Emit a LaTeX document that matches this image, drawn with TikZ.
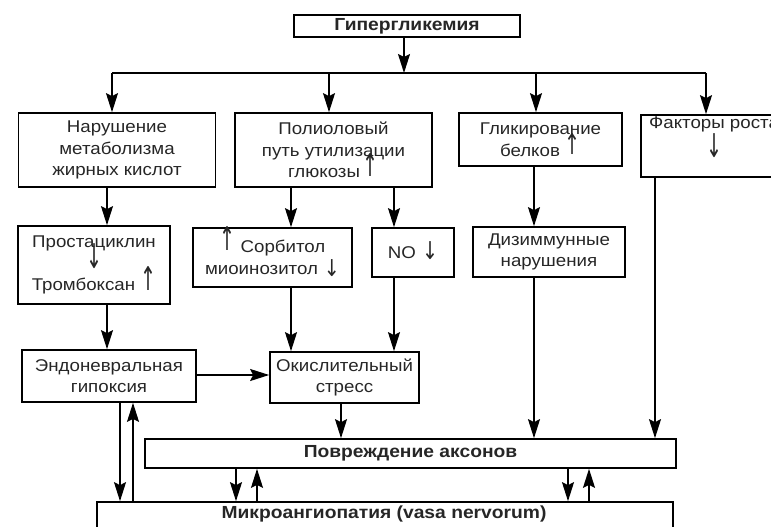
\documentclass[tikz,border=0pt]{standalone}
\usepackage{fontspec}
\usepackage{graphicx}
\setmainfont{Liberation Sans}[FakeStretch=1.1]
\newfontfamily\arrowfont{DejaVu Sans}
\usetikzlibrary{arrows.meta}
% #1 raise, #2 height
\newcommand\upar[2]{\raisebox{#1}[0pt][0pt]{\resizebox*{16pt}{#2}{\arrowfont ↑}}}
\newcommand\dnar[2]{\raisebox{#1}[0pt][0pt]{\resizebox*{16pt}{#2}{\arrowfont ↓}}}
\begin{document}
\begin{tikzpicture}[x=1pt,y=-1pt,
  box/.style={draw, line width=1.7pt, inner sep=0pt, align=center,
    font=\fontsize{17}{21.5}\selectfont, text=black!85},
  plain/.style={inner sep=0pt, align=left,
    font=\fontsize{17}{21.5}\selectfont, text=black!85},
  bold/.style={font=\fontsize{17.5}{21}\selectfont\bfseries, text=black!85},
  arr/.style={-{Stealth[length=19pt,width=12pt,inset=3pt]}, line width=1.5pt},
  ln/.style={line width=1.5pt}]
\useasboundingbox (0,0) rectangle (771,527);
\clip (0,0) rectangle (771,527);
% boxes
\node[box, bold, minimum width=226pt, minimum height=22pt] (top) at (407,26) {Гипергликемия};
\node[box, minimum width=197pt, minimum height=74pt] (b1) at (117,150) {Нарушение\\метаболизма\\жирных кислот};
\node[box, minimum width=197pt, minimum height=74pt] (b2) at (333.5,150) {Полиоловый\\путь утилизации\\глюкозы\hspace{3pt}\upar{1pt}{23pt}};
\node[box, minimum width=163pt, minimum height=53pt] (b3) at (540.5,139.5) {Гликирование\\белков\hspace{5pt}\upar{2pt}{21pt}};
\node[box, minimum width=159pt, minimum height=62pt] (b4) at (720.5,146) {};
\node[plain, anchor=north west] (b4t) at (649,117) {Факторы роста\\\hspace*{57.5pt}\dnar{-7.5pt}{24pt}};
\node[box, minimum width=152pt, minimum height=78pt] (p1) at (94,265) {Простациклин\\\dnar{0.5pt}{25pt}\\Тромбоксан\hspace{5pt}\upar{0pt}{24pt}};
\node[box, minimum width=159pt, minimum height=59pt] (p2) at (272.5,257.5) {\upar{2pt}{24pt}\hspace{5pt}Сорбитол\\миоинозитол\hspace{6pt}\dnar{-2pt}{17pt}};
\node[box, minimum width=82pt, minimum height=49pt] (p3) at (413,252.5) {NO\hspace{6pt}\dnar{-1pt}{18pt}};
\node[box, minimum width=152pt, minimum height=50pt] (p4) at (549,252) {Дизиммунные\\нарушения};
\node[box, minimum width=174pt, minimum height=52pt] (e1) at (109,376) {Эндоневральная\\гипоксия};
\node[box, minimum width=149pt, minimum height=51pt] (e2) at (344.5,377.5) {Окислительный\\стресс};
\node[box, bold, minimum width=531pt, minimum height=29pt] (ax) at (410.5,453.5) {Повреждение аксонов};
\node[box, minimum width=576pt, minimum height=50pt] (mi) at (385,527) {};
\node[bold] (mit) at (384,514) {Микроангиопатия (vasa nervorum)};
% coordinates
\coordinate (hl) at (404,73);
\coordinate (hlL) at (112,73);
\coordinate (hlR) at (706,73);
\coordinate (xa) at (329,0);
\coordinate (xb) at (536,0);
\coordinate (xc) at (107,0);
\coordinate (xd) at (291,0);
\coordinate (xe) at (394,0);
\coordinate (xf) at (534,0);
\coordinate (xg) at (655,0);
\coordinate (xh) at (341,0);
\coordinate (yh) at (0,375);
\coordinate (x1) at (120,0);
\coordinate (x2) at (133,0);
\coordinate (x3) at (236,0);
\coordinate (x4) at (257,0);
\coordinate (x5) at (568,0);
\coordinate (x6) at (589,0);
% connectors
\draw[arr] (top.south -| hl) -- (hl);
\draw[ln] (hlL) -- (hlR);
\draw[arr] (hlL) -- (hlL |- b1.north);
\draw[arr] (xa |- hl) -- (xa |- b2.north);
\draw[arr] (xb |- hl) -- (xb |- b3.north);
\draw[arr] (hlR) -- (hlR |- b4.north);
\draw[arr] (xc |- b1.south) -- (xc |- p1.north);
\draw[arr] (xc |- p1.south) -- (xc |- e1.north);
\draw[arr] (xd |- b2.south) -- (xd |- p2.north);
\draw[arr] (xd |- p2.south) -- (xd |- e2.north);
\draw[arr] (xe |- b2.south) -- (xe |- p3.north);
\draw[arr] (xe |- p3.south) -- (xe |- e2.north);
\draw[arr] (xf |- b3.south) -- (xf |- p4.north);
\draw[arr] (xf |- p4.south) -- (xf |- ax.north);
\draw[arr] (xg |- b4.south) -- (xg |- ax.north);
\draw[arr] (xh |- e2.south) -- (xh |- ax.north);
\draw[arr] (e1.east |- yh) -- (e2.west |- yh);
\draw[arr] (x1 |- e1.south) -- (x1 |- mi.north);
\draw[arr] (x2 |- mi.north) -- (x2 |- e1.south);
\draw[arr] (x3 |- ax.south) -- (x3 |- mi.north);
\draw[arr] (x4 |- mi.north) -- (x4 |- ax.south);
\draw[arr] (x5 |- ax.south) -- (x5 |- mi.north);
\draw[arr] (x6 |- mi.north) -- (x6 |- ax.south);
\end{tikzpicture}
\end{document}
